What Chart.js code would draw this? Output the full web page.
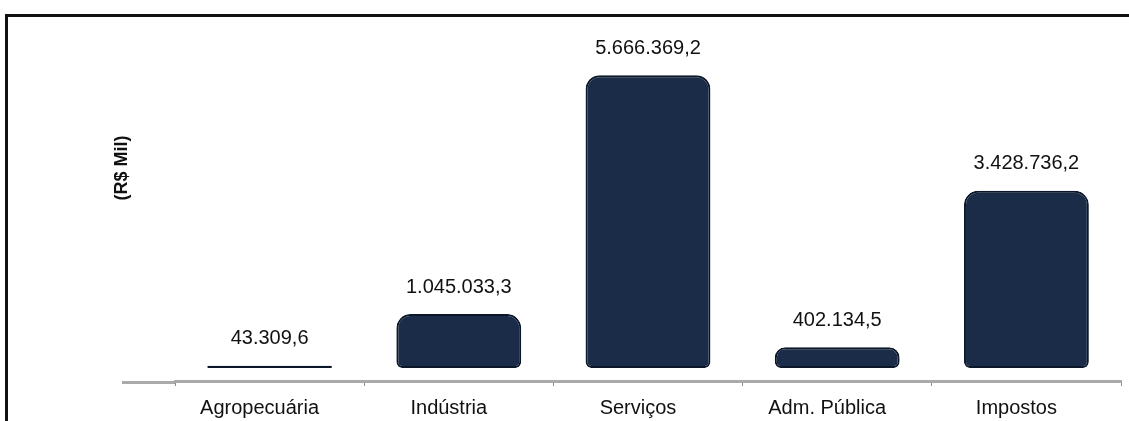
<!DOCTYPE html>
<html>
<head>
<meta charset="utf-8">
<script src="https://cdn.jsdelivr.net/npm/chart.js@4.4.0/dist/chart.umd.min.js"></script>
<style>
html, body { margin: 0; padding: 0; background: #fff; }
#wrap { position: relative; width: 1129px; height: 421px; overflow: hidden; }
#frame { position: absolute; left: 5px; top: 14px; width: 1200px; height: 500px;
         border-top: 3px solid #111; border-left: 3px solid #111; }
canvas { position: absolute; left: 0; top: 0; }
</style>
</head>
<body>
<div id="wrap">
  <div id="frame"></div>
  <canvas id="chart" width="1129" height="430"></canvas>
</div>
<script>
var categories = ['Agropecuária', 'Indústria', 'Serviços', 'Adm. Pública', 'Impostos'];
var values = [43309.6, 1045033.3, 5666369.2, 402134.5, 3428736.2];
var axisTitle = '(R$ Mil)';

var barColor = '#1b2c48';
var barEdge = '#0c1829';

// 1234567.8 -> "1.234.567,8"
function formatBR(v) {
    var parts = v.toFixed(1).split('.');
    var whole = parts[0].replace(/\B(?=(\d{3})+(?!\d))/g, '.');
    return whole + ',' + parts[1];
}

var valueLabels = {
    id: 'valueLabels',
    afterDatasetsDraw: function(chart) {
        var ctx = chart.ctx;
        var meta = chart.getDatasetMeta(0);
        ctx.save();
        ctx.font = '20px "Liberation Sans", Arial, sans-serif';
        ctx.fillStyle = '#111';
        ctx.textAlign = 'center';
        ctx.textBaseline = 'middle';
        meta.data.forEach(function(bar, i) {
            ctx.fillText(formatBR(values[i]), bar.x, bar.y - 27);
        });
        ctx.restore();
    }
};

var axisExtras = {
    id: 'axisExtras',
    afterDraw: function(chart) {
        var ctx = chart.ctx;
        var area = chart.chartArea;
        ctx.save();
        // axis line runs a bit further left than the first category
        ctx.strokeStyle = '#aaa';
        ctx.lineWidth = 3;
        ctx.beginPath();
        ctx.moveTo(122, area.bottom + 1.5);
        ctx.lineTo(area.left, area.bottom + 1.5);
        ctx.stroke();
        // y axis title
        ctx.translate(122, 168);
        ctx.rotate(-Math.PI / 2);
        ctx.font = 'bold 18px "Liberation Sans", Arial, sans-serif';
        ctx.fillStyle = '#111';
        ctx.textAlign = 'center';
        ctx.textBaseline = 'middle';
        ctx.fillText(axisTitle, 0, 0);
        ctx.restore();
    }
};

var ctx = document.getElementById('chart');
var chart = new Chart(ctx, {
    type: 'bar',
    data: {
        labels: categories,
        datasets: [{
            data: values,
            backgroundColor: barColor,
            borderColor: barEdge,
            borderWidth: 2,
            borderSkipped: false,
            borderRadius: { topLeft: 14, topRight: 14, bottomLeft: 6, bottomRight: 6 },
            barPercentage: 0.66,
            categoryPercentage: 1
        }]
    },
    options: {
        responsive: false,
        animation: false,
        layout: {
            padding: { left: 175, right: 8, top: 30, bottom: 0 }
        },
        plugins: {
            legend: { display: false },
            tooltip: { enabled: false }
        },
        scales: {
            x: {
                grid: {
                    display: true,
                    drawOnChartArea: false,
                    offset: true,
                    tickLength: 5,
                    color: '#888',
                    lineWidth: 1
                },
                border: { display: true, color: '#aaa', width: 3 },
                ticks: {
                    font: { family: '"Liberation Sans", Arial, sans-serif', size: 20 },
                    color: '#111',
                    padding: 10,
                    labelOffset: -10,
                    maxRotation: 0,
                    autoSkip: false
                }
            },
            y: {
                display: false,
                min: -250000,
                max: 6540000
            }
        }
    },
    plugins: [valueLabels, axisExtras]
});
</script>
</body>
</html>
